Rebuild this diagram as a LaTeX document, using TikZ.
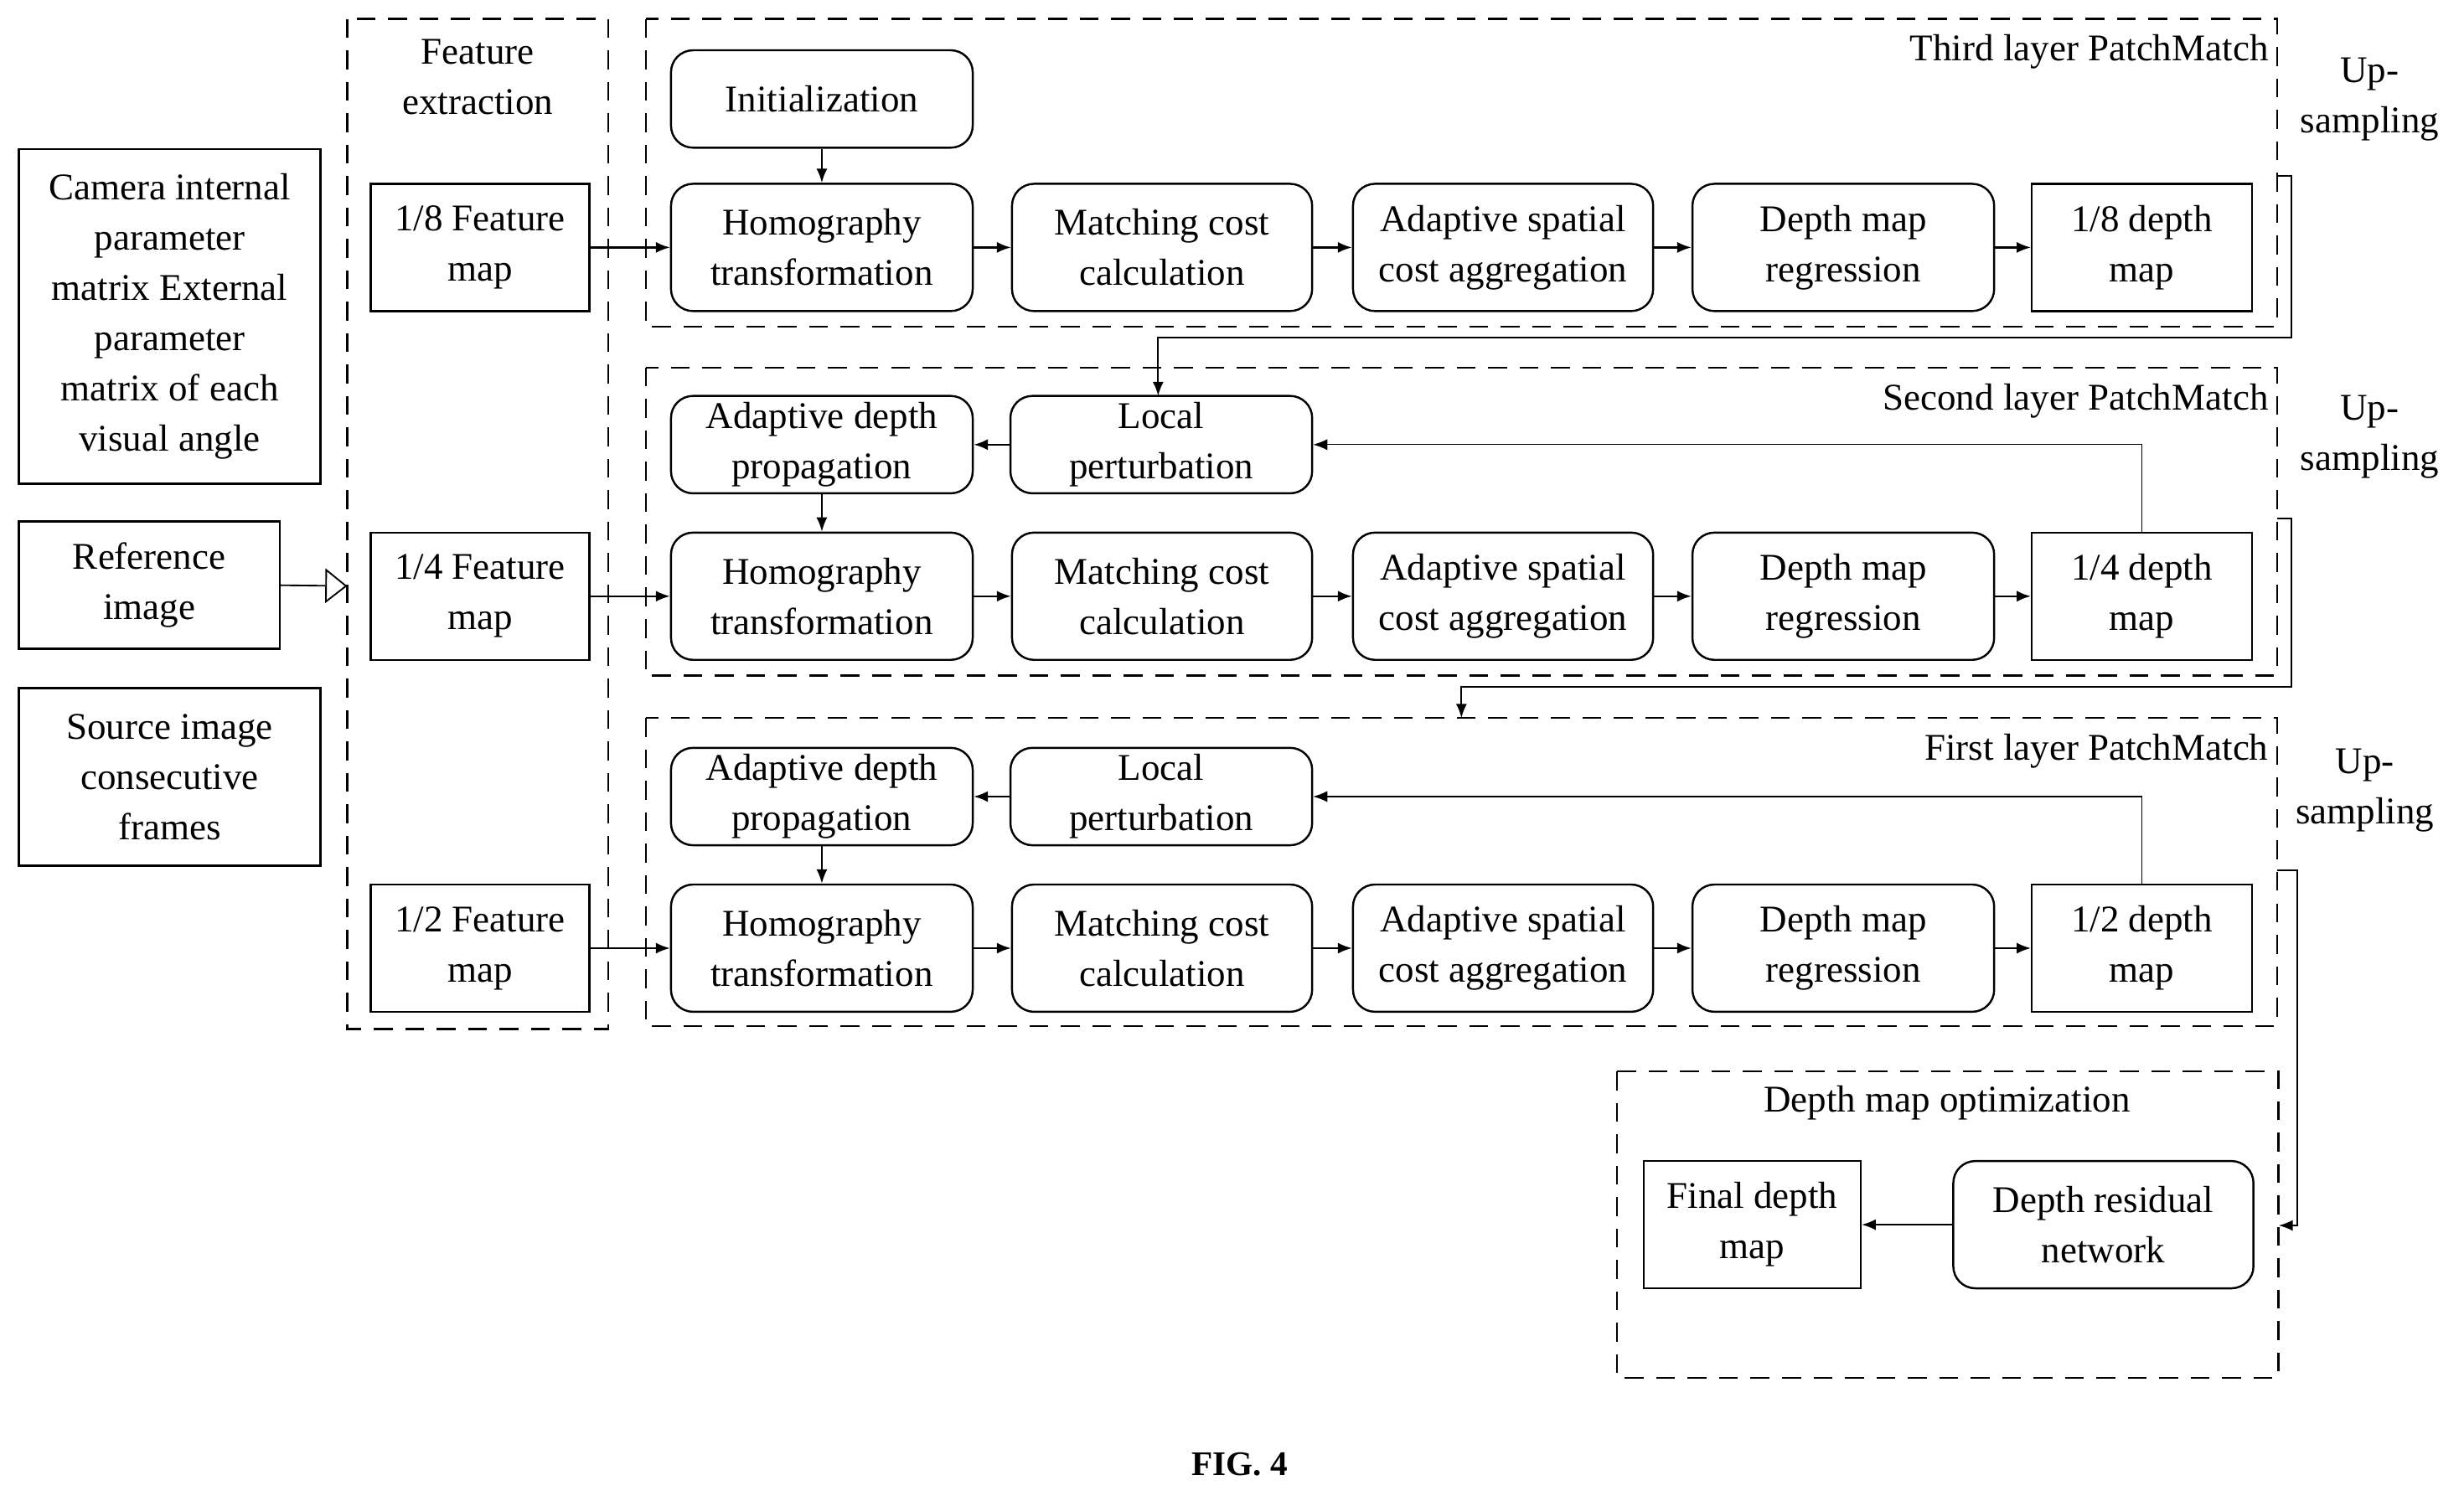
\documentclass[tikz,border=0pt]{standalone}
\usepackage{fontspec}
\setmainfont{Liberation Serif}
\usetikzlibrary{arrows.meta,positioning}
\begin{document}
\begin{tikzpicture}[x=1pt,y=-1pt,
  every node/.style={font=\fontsize{24}{32}\selectfont},
  bx/.style={draw,line width=1.3pt,align=center,inner sep=0pt},
  rb/.style={bx,rounded corners=14pt},
  dbox/.style={draw,line width=1.3pt,dash pattern=on 12pt off 8pt},
  ar/.style={line width=1.2pt,-{Latex[length=9pt,width=7pt]}},
  thin/.style={line width=0.6pt,-{Latex[length=9pt,width=7pt]}}]
\useasboundingbox (0,0) rectangle (1568,952);
\def\bxat#1#2#3#4#5#6#7{\node[#1,minimum width=#4-#3,minimum height=#6-#5] (#2) at ({(#3+#4)/2},{(#5+#6)/2}) {#7};}
% left inputs
\bxat{bx}{cam}{12}{204}{95}{308}{Camera internal\\parameter\\matrix External\\parameter\\matrix of each\\visual angle}
\bxat{bx}{ref}{12}{178}{332}{413}{Reference\\image}
\bxat{bx}{src}{12}{204}{438}{551}{Source image\\consecutive\\frames}
% feature extraction
\draw[dbox] (221,12) rectangle (387,655);
\node[align=center] (fe) at (304,49) {Feature\\extraction};
\bxat{bx}{f8}{236}{375}{117}{198}{1/8 Feature\\map}
\bxat{bx}{f4}{236}{375}{339}{420}{1/4 Feature\\map}
\bxat{bx}{f2}{236}{375}{563}{644}{1/2 Feature\\map}
\coordinate (fel) at (221,373);
\draw[line width=1pt,-{Triangle[open,length=14pt,width=22pt]}] (ref.east) -- (fel);
% layers
\draw[dbox] (411,12) rectangle (1449,208);
\draw[dbox] (411,234) rectangle (1449,430);
\draw[dbox] (411,457) rectangle (1449,653);
\node[anchor=east] (t3) at (1447,33) {Third layer PatchMatch};
\node[anchor=east] (t2) at (1447,255) {Second layer PatchMatch};
\node[anchor=east] (t1) at (1447,478) {First layer PatchMatch};
\node[align=center] (u3) at (1508,63) {Up-\\sampling};
\node[align=center] (u2) at (1508,278) {Up-\\sampling};
\node[align=center] (u1) at (1505,503) {Up-\\sampling};
\bxat{rb}{init}{427}{619}{32}{94}{Initialization}
\foreach \r/\ya/\yb in {3/117/198,2/339/420,1/563/644}{
  \bxat{rb}{h\r}{427}{619}{\ya}{\yb}{Homography\\transformation}
  \bxat{rb}{m\r}{644}{835}{\ya}{\yb}{Matching cost\\calculation}
  \bxat{rb}{a\r}{861}{1052}{\ya}{\yb}{Adaptive spatial\\cost aggregation}
  \bxat{rb}{r\r}{1077}{1269}{\ya}{\yb}{Depth map\\regression}
  \draw[ar] (h\r) -- (m\r); \draw[ar] (m\r) -- (a\r); \draw[ar] (a\r) -- (r\r);
}
\bxat{bx}{d3}{1293}{1433}{117}{198}{1/8 depth\\map}
\bxat{bx}{d2}{1293}{1433}{339}{420}{1/4 depth\\map}
\bxat{bx}{d1}{1293}{1433}{563}{644}{1/2 depth\\map}
\foreach \r in {1,2,3}{\draw[ar] (r\r) -- (d\r);}
\draw[ar] (f8) -- (h3); \draw[ar] (f4) -- (h2); \draw[ar] (f2) -- (h1);
\draw[ar] (init) -- (h3);
\foreach \r/\ya/\yb in {2/252/314,1/476/538}{
  \bxat{rb}{p\r}{427}{619}{\ya}{\yb}{Adaptive depth\\propagation}
  \bxat{rb}{l\r}{643}{835}{\ya}{\yb}{Local\\perturbation}
  \draw[ar] (l\r) -- (p\r); \draw[ar] (p\r) -- (h\r);
}
\coordinate (q2) at (1363,339); \coordinate (q1) at (1363,563);
\draw[thin] (q2) |- (l2.east);
\draw[thin] (q1) |- (l1.east);
% optimization
\draw[dbox] (1029,682) rectangle (1450,877);
\node (opt) at (1239,702) {Depth map optimization};
\bxat{bx}{fin}{1046}{1184}{739}{820}{Final depth\\map}
\bxat{rb}{res}{1243}{1434}{739}{820}{Depth residual\\network}
\draw[ar] (res) -- (fin);
% up-sampling connectors
\coordinate (s3) at (1449,112); \coordinate (s2) at (1449,330);
\coordinate (s1) at (1449,554); \coordinate (e1) at (1450,780);
\coordinate (e2) at (930,457); \coordinate (e3) at (737,252);
\draw[ar] (s3) -- (1458,112) -- (1458,215) -- (737,215) -- (e3);
\draw[ar] (s2) -- (1458,330) -- (1458,437) -- (930,437) -- (e2);
\draw[ar] (s1) -- (1462,554) -- (1462,780) -- (e1);
\node[font=\bfseries\fontsize{22}{26}\selectfont] (fig) at (789,932) {FIG. 4};
\end{tikzpicture}
\end{document}
